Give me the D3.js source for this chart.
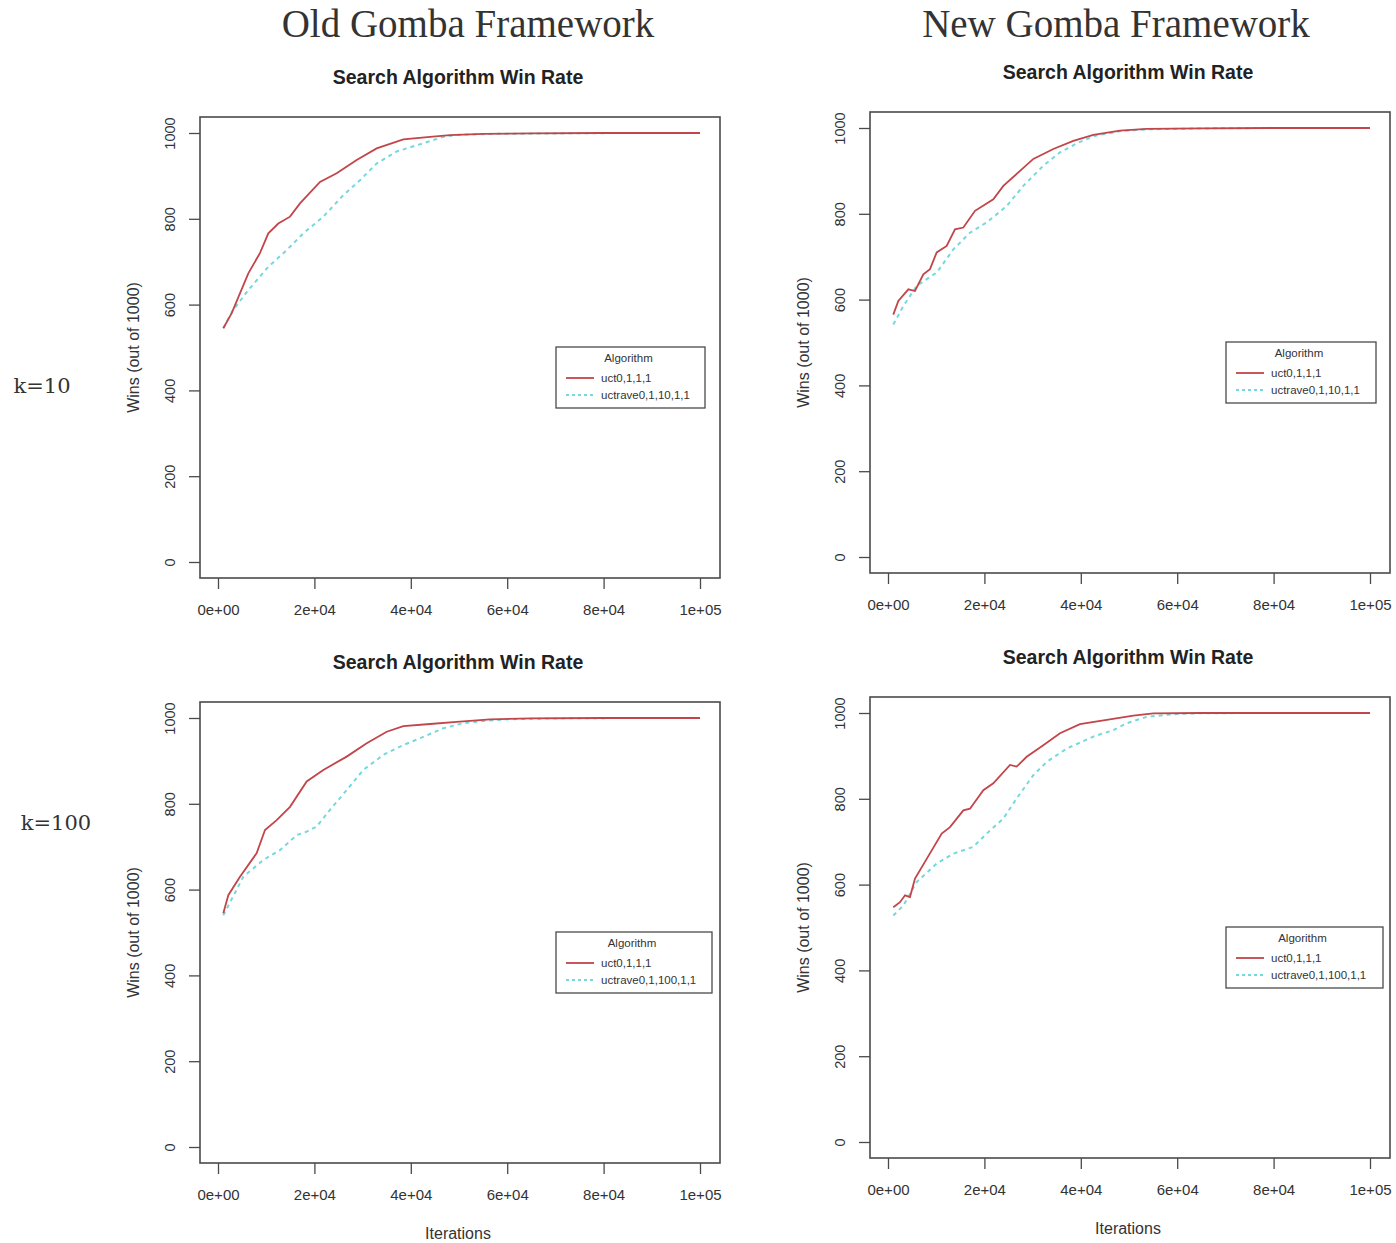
<!DOCTYPE html>
<html><head><meta charset="utf-8">
<script src="https://cdn.jsdelivr.net/npm/d3@7"></script>
<style>body{margin:0;background:#fff}svg{display:block}</style>
</head><body>
<script>
// ---------- data ----------
const xTicks = [0, 20000, 40000, 60000, 80000, 100000];
const xTickLabels = ["0e+00", "2e+04", "4e+04", "6e+04", "8e+04", "1e+05"];
const yTicks = [0, 200, 400, 600, 800, 1000];
const columnTitles = ["Old Gomba Framework", "New Gomba Framework"];
const rowLabels = ["k=10", "k=100"];
const panelTitle = "Search Algorithm Win Rate";
const seriesNames10 = ["uct0,1,1,1", "uctrave0,1,10,1,1"];
const seriesNames100 = ["uct0,1,1,1", "uctrave0,1,100,1,1"];

// Old framework, k=10
const oldK10Uct = [[1100,545],[2840,580],[6290,673],[8700,720],[10440,766],[12510,789],[14940,805],[17010,836],[21160,886],[24620,906],[28770,937],[32920,964],[38450,985],[44000,991],[48130,995],[55000,998],[65000,999],[80000,1000],[100000,1000]];
const oldK10Rave = [[1100,545],[3000,585],[6290,634],[10440,688],[14250,727],[17700,766],[21850,805],[26000,855],[29460,890],[32920,929],[37070,957],[42600,976],[46740,991],[50000,996],[58000,998],[70000,999],[85000,1000],[100000,1000]];
// New framework, k=10
const newK10Uct = [[1100,565],[2140,597],[4220,624],[5600,620],[7330,659],[8710,671],[10100,710],[12170,725],[13900,764],[15630,768],[18050,807],[21850,834],[23930,865],[27390,900],[30150,928],[34300,951],[38450,970],[42600,984],[48130,994],[53670,998],[65000,999],[80000,1000],[100000,1000]];
const newK10Rave = [[1100,542],[3170,585],[5950,632],[10100,663],[13550,717],[17010,756],[20480,780],[24620,818],[28070,865],[32220,912],[35680,943],[39500,966],[43000,982],[48500,993],[54000,997],[65000,999],[80000,1000],[100000,1000]];
// Old framework, k=100
const oldK100Uct = [[1100,545],[2140,587],[4560,630],[8030,685],[9750,739],[12170,762],[14940,793],[18400,852],[21850,879],[26700,910],[30850,941],[35000,968],[38450,981],[44000,986],[49520,991],[56430,997],[65000,999],[80000,1000],[100000,1000]];
const oldK100Rave = [[1100,540],[5250,630],[9400,669],[12860,692],[16330,727],[18400,735],[20480,747],[23240,786],[26700,832],[30150,879],[34300,914],[38450,937],[42600,956],[46740,976],[50900,988],[56000,994],[60000,997],[70000,999],[85000,1000],[100000,1000]];
// New framework, k=100
const newK100Uct = [[1100,547],[2490,559],[3530,575],[4560,571],[5600,614],[8030,660],[11140,719],[12860,734],[15630,773],[17010,777],[19780,820],[21850,836],[25310,879],[26700,875],[28770,898],[32220,925],[35680,953],[39830,974],[45370,984],[50900,994],[55050,999],[65000,1000],[80000,1000],[100000,1000]];
const newK100Rave = [[1100,528],[3170,551],[5950,606],[10100,649],[13550,672],[17700,688],[20480,719],[23930,754],[26700,801],[30150,855],[32920,886],[37070,917],[42600,945],[46740,960],[49520,976],[53670,991],[58000,996],[62000,999],[75000,1000],[100000,1000]];

// ---------- layout ----------
const W = 1396, H = 1243;
const panels = [
  {left:200, top:117, uct:oldK10Uct, rave:oldK10Rave, names:seriesNames10, legW:149, xTitle:false},
  {left:870, top:112, uct:newK10Uct, rave:newK10Rave, names:seriesNames10, legW:150, xTitle:false},
  {left:200, top:702, uct:oldK100Uct, rave:oldK100Rave, names:seriesNames100, legW:156, xTitle:true},
  {left:870, top:697, uct:newK100Uct, rave:newK100Rave, names:seriesNames100, legW:157, xTitle:true}
];
const boxW = 520, boxH = 461;
const sans = "'Liberation Sans', Arial, Helvetica, sans-serif";
const serif = "'DejaVu Serif', 'Liberation Serif', serif";
const redCol = "#c2454a", cyanCol = "#74d8dc", axisCol = "#4a4a4a";

const svg = d3.select("body").append("svg").attr("width", W).attr("height", H);

// column titles & row labels
svg.append("text").attr("x", 468).attr("y", 37).attr("text-anchor","middle")
  .style("font-family", "'Liberation Serif', serif").style("font-size","39px").attr("fill","#333").text(columnTitles[0]);
svg.append("text").attr("x", 1116).attr("y", 37).attr("text-anchor","middle")
  .style("font-family", "'Liberation Serif', serif").style("font-size","39px").attr("fill","#333").text(columnTitles[1]);
svg.append("text").attr("x", 42).attr("y", 393).attr("text-anchor","middle")
  .style("font-family", serif).style("font-size","21px").attr("fill","#333").text(rowLabels[0]);
svg.append("text").attr("x", 56).attr("y", 830).attr("text-anchor","middle")
  .style("font-family", serif).style("font-size","21px").attr("fill","#333").text(rowLabels[1]);

panels.forEach(p => {
  const g = svg.append("g").attr("transform", `translate(${p.left},${p.top})`);
  const x = d3.scaleLinear().domain([0, 100000]).range([18, 500]);
  const y = d3.scaleLinear().domain([0, 1000]).range([445, 16]);

  // title
  g.append("text").attr("x", boxW/2 - 2).attr("y", -33).attr("text-anchor","middle")
    .style("font-family", sans).style("font-weight","bold").style("font-size","19.5px").attr("fill","#222").text(panelTitle);

  // x axis
  const xa = g.append("g").attr("transform", `translate(0,${boxH})`)
    .call(d3.axisBottom(x).tickValues(xTicks).tickFormat((d,i)=>xTickLabels[i]).tickSize(11).tickPadding(15));
  xa.select(".domain").remove();
  xa.selectAll("line").attr("stroke", axisCol).attr("stroke-width", 1.3);
  xa.selectAll("text").style("font-family", sans).style("font-size","15px").attr("fill","#333");

  // y axis
  const ya = g.append("g")
    .call(d3.axisLeft(y).tickValues(yTicks).tickSize(11).tickFormat(d3.format("d")));
  ya.select(".domain").remove();
  ya.selectAll("line").attr("stroke", axisCol).attr("stroke-width", 1.3);
  ya.selectAll("text").remove();
  ya.selectAll(".tick").append("text")
    .attr("transform", "translate(-30,0) rotate(-90)")
    .attr("text-anchor","middle").attr("dy","0.35em")
    .style("font-family", sans).style("font-size","14.5px").attr("fill","#333")
    .text(d => d);

  // y title
  g.append("text").attr("transform", `translate(-67,${boxH/2}) rotate(-90)`)
    .attr("text-anchor","middle").attr("dy","0.35em").style("font-family", sans).style("font-size","16px").attr("fill","#333")
    .text("Wins (out of 1000)");
  if (p.xTitle) {
    g.append("text").attr("x", boxW/2 - 2).attr("y", boxH + 76).attr("text-anchor","middle")
      .style("font-family", sans).style("font-size","16px").attr("fill","#333").text("Iterations");
  }

  // lines
  const line = d3.line().x(d => x(d[0])).y(d => y(d[1])).curve(d3.curveLinear);
  g.append("path").datum(p.rave).attr("d", line).attr("fill","none")
    .attr("stroke", cyanCol).attr("stroke-width", 2).attr("stroke-dasharray","4,4");
  g.append("path").datum(p.uct).attr("d", line).attr("fill","none")
    .attr("stroke", redCol).attr("stroke-width", 1.8);

  // box
  g.append("rect").attr("x",0).attr("y",0).attr("width",boxW).attr("height",boxH)
    .attr("fill","none").attr("stroke", axisCol).attr("stroke-width", 1.6);

  // legend
  const lg = g.append("g").attr("transform", `translate(356,230)`);
  lg.append("rect").attr("width", p.legW).attr("height", 61).attr("fill","#fff")
    .attr("stroke", axisCol).attr("stroke-width", 1.3);
  lg.append("text").attr("x", p.legW/2 - 2).attr("y", 15).attr("text-anchor","middle")
    .style("font-family", sans).style("font-size","11.5px").attr("fill","#333").text("Algorithm");
  const cols = [redCol, cyanCol];
  p.names.forEach((n, i) => {
    const yy = 31 + i*17;
    lg.append("line").attr("x1", 10).attr("x2", 38).attr("y1", yy).attr("y2", yy)
      .attr("stroke", cols[i]).attr("stroke-width", 1.8).attr("stroke-dasharray", i ? "3,3" : null);
    lg.append("text").attr("x", 45).attr("y", yy).attr("dy","0.35em")
      .style("font-family", sans).style("font-size","11.5px").attr("fill","#333").text(n);
  });
});
</script>
</body></html>
